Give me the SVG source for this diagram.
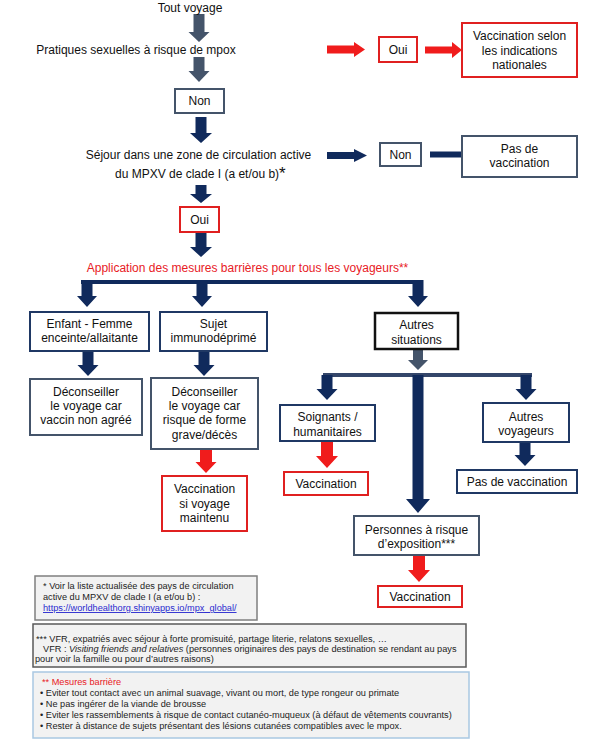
<svg xmlns="http://www.w3.org/2000/svg" width="604" height="747" viewBox="0 0 604 747">
<style>
.t{font-family:"Liberation Sans",Arial,sans-serif;font-size:12px;fill:#111;text-anchor:middle}
.fn{font-family:"Liberation Sans",Arial,sans-serif;font-size:9.2px;fill:#222;text-anchor:start}
.box{fill:#fff;stroke:#1f3864;stroke-width:2}
.gbox{fill:#fff;stroke:#44546a;stroke-width:2}
.rbox{fill:#fff;stroke:#e02020;stroke-width:2}
.navy{fill:#102a5c}
.slate{fill:#44546a}
.red{fill:#f01c1c}
</style>
<rect width="604" height="747" fill="#fff"/>

<g id="connectors">
<polygon class="slate" points="193.5,14 204.5,14 204.5,32 209.5,32 199,42 188.5,32 193.5,32"/>
<polygon class="slate" points="193.5,57 204.5,57 204.5,71 209.5,71 199,82 188.5,71 193.5,71"/>
<polygon class="navy" points="195.5,117 206.5,117 206.5,133 212,133 201,143 190,133 195.5,133"/>
<polygon class="navy" points="195.5,185 206.5,185 206.5,194 212,194 201,203 190,194 195.5,194"/>
<polygon class="navy" points="195.5,233 206.5,233 206.5,247 212,247 201,257 190,247 195.5,247"/>
<rect class="navy" x="81" y="280" width="342" height="4"/>
<polygon class="navy" points="81.5,280 92.5,280 92.5,296 97,296 87,307 77,296 81.5,296"/>
<polygon class="navy" points="196.5,280 207.5,280 207.5,296 212,296 202,307 192,296 196.5,296"/>
<polygon class="navy" points="412.5,280 423.5,280 423.5,296 428,296 418,307 408,296 412.5,296"/>
<polygon class="navy" points="82.5,351 93.5,351 93.5,365 98.5,365 88,376 77.5,365 82.5,365"/>
<polygon class="navy" points="198.5,351 209.5,351 209.5,365 214.5,365 204,376 193.5,365 198.5,365"/>
<polygon class="slate" points="413,349 423,349 423,360 428,360 418,370 408,360 413,360"/>
<rect x="323" y="373" width="209" height="4" fill="#34466a"/>
<polygon class="navy" points="321.5,375 332.5,375 332.5,389 337.5,389 327,400 316.5,389 321.5,389"/>
<polygon class="navy" points="520.5,375 531.5,375 531.5,389 536.5,389 526,400 515.5,389 520.5,389"/>
<polygon class="navy" points="412.5,375 423.5,375 423.5,499 430,499 418,513 406,499 412.5,499"/>
<polygon class="red" points="321,441 333,441 333,456 338,456 327,468 316,456 321,456"/>
<polygon class="navy" points="519.5,442 530.5,442 530.5,455 535.5,455 525,466 514.5,455 519.5,455"/>
<polygon class="red" points="200,449 212,449 212,462 216.5,462 206,473 195.5,462 200,462"/>
<polygon class="red" points="413,555 425,555 425,570 430,570 419,582 408,570 413,570"/>
<polygon class="red" points="327,45.5 354,45.5 354,42 365,49.5 354,57 354,53.5 327,53.5"/>
<polygon class="red" points="425,46.5 452,46.5 452,42 462,50 452,58 452,53.5 425,53.5"/>
<polygon class="navy" points="327,152 354,152 354,149 367,155.5 354,162 354,159 327,159"/>
<rect class="navy" x="430" y="151.5" width="32" height="6"/>
</g>

<g id="start"><text class="t" x="190" y="12">Tout voyage</text></g>
<g id="q1"><text class="t" x="136" y="54">Pratiques sexuelles à risque de mpox</text></g>
<g id="non1"><rect class="gbox" x="175" y="89" width="49" height="24"/><text class="t" x="199.5" y="105">Non</text></g>
<g id="oui1"><rect class="rbox" x="379" y="37" width="38" height="25"/><text class="t" x="398" y="54">Oui</text></g>
<g id="vacc-nat"><rect class="rbox" x="462" y="23" width="115" height="54"/>
<text class="t" x="519.5" y="40">Vaccination selon</text><text class="t" x="519.5" y="55">les indications</text><text class="t" x="519.5" y="69">nationales</text></g>
<g id="q2"><text class="t" x="198.5" y="159">Séjour dans une zone de circulation active</text>
<text class="t" x="115" y="178" style="text-anchor:start">du MPXV de clade I (a et/ou b)<tspan font-size="17" dy="1">*</tspan></text></g>
<g id="non2"><rect class="gbox" x="380" y="143" width="41" height="23"/><text class="t" x="400.5" y="159">Non</text></g>
<g id="pasvacc1"><rect class="gbox" x="462" y="136" width="115" height="41"/>
<text class="t" x="519.5" y="153">Pas de</text><text class="t" x="519.5" y="167">vaccination</text></g>
<g id="oui2"><rect class="rbox" x="180" y="207" width="39" height="25"/><text class="t" x="199.5" y="224">Oui</text></g>
<g id="barrieres"><text class="t" x="247.5" y="272" style="fill:#e8201f">Application des mesures barrières pour tous les voyageurs**</text></g>
<g id="enfant"><rect class="box" x="30" y="312" width="119" height="39"/>
<text class="t" x="89.5" y="328">Enfant - Femme</text><text class="t" x="89.5" y="342">enceinte/allaitante</text></g>
<g id="immuno"><rect class="box" x="160" y="312" width="107" height="39"/>
<text class="t" x="213.5" y="328">Sujet</text><text class="t" x="213.5" y="342">immunodéprimé</text></g>
<g id="autres-sit"><rect x="375" y="313" width="83" height="36" fill="#fff" stroke="#111" stroke-width="2.5"/>
<text class="t" x="416.5" y="329">Autres</text><text class="t" x="416.5" y="344">situations</text></g>
<g id="decons1"><rect class="gbox" x="30" y="379" width="112" height="56"/>
<text class="t" x="86" y="396">Déconseiller</text><text class="t" x="86" y="410">le voyage car</text><text class="t" x="86" y="424">vaccin non agréé</text></g>
<g id="decons2"><rect class="gbox" x="151" y="378" width="107" height="71"/>
<text class="t" x="204.5" y="396">Déconseiller</text><text class="t" x="204.5" y="410">le voyage car</text><text class="t" x="204.5" y="424">risque de forme</text><text class="t" x="204.5" y="439">grave/décès</text></g>
<g id="soignants"><rect class="box" x="280" y="405" width="95" height="36"/>
<text class="t" x="327.5" y="421">Soignants /</text><text class="t" x="327.5" y="436">humanitaires</text></g>
<g id="autres-voy"><rect class="box" x="483" y="403" width="86" height="39"/>
<text class="t" x="526" y="421">Autres</text><text class="t" x="526" y="435">voyageurs</text></g>
<g id="vacc1"><rect class="rbox" x="284" y="472" width="84" height="23"/><text class="t" x="326" y="488">Vaccination</text></g>
<g id="pasvacc2"><rect class="box" x="457" y="470" width="120" height="23"/><text class="t" x="517" y="486">Pas de vaccination</text></g>
<g id="vacc-maint"><rect class="rbox" x="162" y="476" width="85" height="55"/>
<text class="t" x="204.5" y="493">Vaccination</text><text class="t" x="204.5" y="508">si voyage</text><text class="t" x="204.5" y="522">maintenu</text></g>
<g id="exposition"><rect class="gbox" x="354" y="516" width="125" height="39"/>
<text class="t" x="416.5" y="534">Personnes à risque</text><text class="t" x="416.5" y="548">d’exposition***</text></g>
<g id="vacc2"><rect class="rbox" x="378" y="586" width="84" height="21"/><text class="t" x="420" y="601">Vaccination</text></g>

<g id="note1"><rect x="35" y="576" width="222" height="44" fill="#f2f2f2" stroke="#7f7f7f" stroke-width="1.5"/>
<text class="fn" x="43" y="589">* Voir la liste actualisée des pays de circulation</text>
<text class="fn" x="43" y="600">active du MPXV de clade I (a et/ou b) :</text>
<text class="fn" x="43" y="611" style="fill:#2a2ad0" text-decoration="underline">https://worldhealthorg.shinyapps.io/mpx_global/</text></g>
<g id="note2"><rect x="33" y="624" width="433" height="43" fill="#f2f2f2" stroke="#595959" stroke-width="1.5"/>
<text class="fn" x="36" y="642">*** VFR, expatriés avec séjour à forte promisuité, partage literie, relatons sexuelles, …</text>
<text class="fn" x="43" y="652">VFR : <tspan font-style="italic">Visiting friends and relatives</tspan> (personnes originaires des pays de destination se rendant au pays</text>
<text class="fn" x="35" y="662">pour voir la famille ou pour d’autres raisons)</text></g>
<g id="note3"><rect x="33" y="672" width="436" height="66" fill="#f2f2f2" stroke="#a9c8e2" stroke-width="1.5"/>
<text class="fn" x="42" y="685" style="fill:#e8201f">** Mesures barrière</text>
<text class="fn" x="40" y="696">•  Eviter tout contact avec un animal suavage, vivant ou mort, de type rongeur ou primate</text>
<text class="fn" x="40" y="707">•  Ne pas ingérer de la viande de brousse</text>
<text class="fn" x="40" y="718">•  Eviter les rassemblements à risque de contact cutanéo-muqueux (à défaut de vêtements couvrants)</text>
<text class="fn" x="40" y="729">•  Rester à distance de sujets présentant des lésions cutanées compatibles avec le mpox.</text></g>
</svg>
